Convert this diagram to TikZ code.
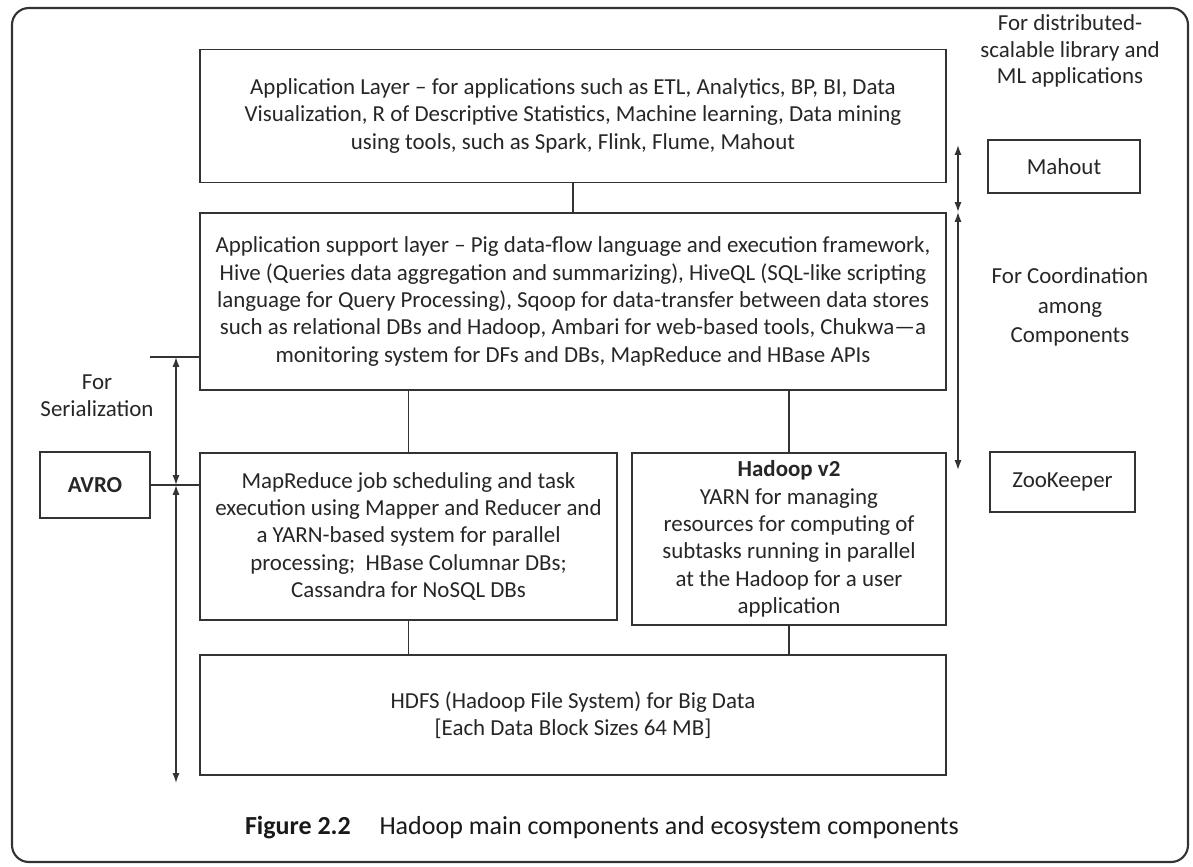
\documentclass[tikz,border=0pt]{standalone}
\usepackage{fontspec}
\setmainfont{Carlito}
\usetikzlibrary{arrows.meta}

\begin{document}
\begin{tikzpicture}[
    x=0.025cm, y=-0.025cm,
    layer/.style={
        rectangle,
        draw=black!80,
        line width=1.1pt,
        text=black!85,
        font=\fontsize{16.3}{19.4}\selectfont,
        align=center
    },
    note/.style={
        text=black!85,
        font=\fontsize{16.3}{18.6}\selectfont,
        align=center
    },
    link/.style={draw=black!80, line width=1pt},
    >={Latex[length=7pt,width=5pt]}
]

\useasboundingbox (0,0) rectangle (1193,867);
\draw[black!80, line width=1.5pt, rounded corners=12pt] (12,8) rectangle (1188,862);

\node[layer, minimum width=18.65cm, minimum height=3.325cm] (applayer) at (573,116) {Application Layer -- for applications such as ETL, Analytics, BP, BI, Data\\Visualization, R of Descriptive Statistics, Machine learning, Data mining\\using tools, such as Spark, Flink, Flume, Mahout};
\node[layer, minimum width=18.65cm, minimum height=4.425cm] (support) at (573,301.5) {Application support layer -- Pig data-flow language and execution framework,\\Hive (Queries data aggregation and summarizing), HiveQL (SQL-like scripting\\language for Query Processing), Sqoop for data-transfer between data stores\\such as relational DBs and Hadoop, Ambari for web-based tools, Chukwa---a\\monitoring system for DFs and DBs, MapReduce and HBase APIs};
\node[layer, minimum width=10.425cm, minimum height=4.175cm] (mapred) at (408.5,536.5) {MapReduce job scheduling and task\\execution using Mapper and Reducer and\\a YARN-based system for parallel\\processing;~ HBase Columnar DBs;\\Cassandra for NoSQL DBs};
\node[layer, minimum width=7.85cm, minimum height=4.3cm] (yarn) at (789,539) {\textbf{Hadoop v2}\\YARN for managing\\resources for computing of\\subtasks running in parallel\\at the Hadoop for a user\\application};
\node[layer, minimum width=18.65cm, minimum height=3cm] (hdfs) at (573,715) {HDFS (Hadoop File System) for Big Data\\{[Each Data Block Sizes 64 MB]}};

\node[layer, minimum width=2.75cm, minimum height=1.65cm] (avro) at (95,485) {\textbf{AVRO}};
\node[layer, minimum width=3.8cm, minimum height=1.325cm] (mahout) at (1064,166.5) {Mahout};
\node[layer, minimum width=3.625cm, minimum height=1.5cm] (zoo) at (1062.5,482) {ZooKeeper};

\node[note] (mlnote) at (1070,51) {For distributed-\\scalable library and\\ML applications};
\node[note, font=\fontsize{16.3}{21}\selectfont] (conote) at (1070,307) {For Coordination\\among\\Components};
\node[note, font=\fontsize{16.3}{19.4}\selectfont] (sernote) at (97,396) {For\\Serialization};

\draw[link] (applayer.south) -- (support.north);
\draw[link] (mapred.north) -- (mapred.north |- support.south);
\draw[link] (yarn.north) -- (yarn.north |- support.south);
\draw[link] (mapred.south) -- (mapred.south |- hdfs.north);
\draw[link] (yarn.south) -- (yarn.south |- hdfs.north);

% serialization span
\coordinate (serstub) at (150,357);
\coordinate (sertop) at (176,357);
\coordinate (serjoin) at (176,485);
\coordinate (serend) at (176,783);
\draw[link] (serstub) -- (serstub -| support.west);
\draw[link] (avro.east) -- (avro.east -| mapred.west);
\draw[link, <->] (sertop) -- (serjoin);
\draw[link, <->] (serjoin) -- (serend);

% mahout and zookeeper spans
\coordinate (mltop) at (958,145);
\coordinate (mljoin) at (958,212);
\coordinate (coend) at (958,470);
\draw[link, <->] (mltop) -- (mljoin);
\draw[link, <->] (mljoin) -- (coend);

\node[text=black!90, font=\fontsize{18.5}{22}\selectfont] (caption) at (602,828) {\textbf{Figure 2.2}\hspace{1.1em}Hadoop main components and ecosystem components};

\end{tikzpicture}
\end{document}
